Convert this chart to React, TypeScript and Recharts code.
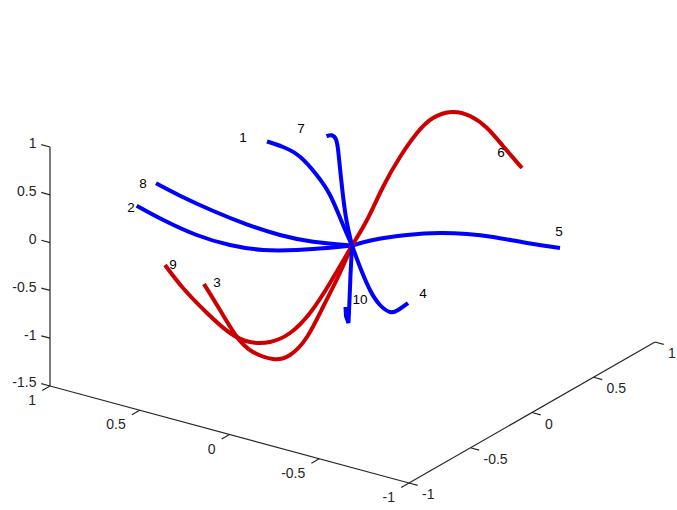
import React from 'react';
import {
  ComposedChart,
  Line,
  XAxis,
  YAxis,
  ReferenceLine,
  Scatter,
} from 'recharts';

// Projected (screen-plane) points of the ten curves
const curve1 = [
  { px: 267, py: 141.5 }, { px: 283, py: 147 }, { px: 300, py: 156.7 }, { px: 316.7, py: 175 },
  { px: 330, py: 195 }, { px: 341.7, py: 221.7 }, { px: 352, py: 245.5 },
];
const curve2 = [
  { px: 136.7, py: 205.7 }, { px: 163.3, py: 220 }, { px: 196.7, py: 235 }, { px: 230, py: 245 },
  { px: 263.3, py: 250 }, { px: 296.7, py: 250 }, { px: 330, py: 247.7 }, { px: 352, py: 245.5 },
];
const curve3 = [
  { px: 352, py: 245.5 }, { px: 338, py: 277 }, { px: 323, py: 307 }, { px: 307, py: 337 },
  { px: 290, py: 355 }, { px: 273, py: 359 }, { px: 253, py: 352 }, { px: 237, py: 337 },
  { px: 220, py: 310 }, { px: 204, py: 284 },
];
const curve4 = [
  { px: 352, py: 245.5 }, { px: 360, py: 267 }, { px: 370, py: 290 }, { px: 380, py: 305 },
  { px: 390, py: 312 }, { px: 398, py: 310 }, { px: 408, py: 303 },
];
const curve5 = [
  { px: 352, py: 245.5 }, { px: 373, py: 240 }, { px: 407, py: 235 }, { px: 440, py: 233 },
  { px: 467, py: 234 }, { px: 493, py: 237 }, { px: 527, py: 243 }, { px: 560, py: 248 },
];
const curve6 = [
  { px: 352, py: 245.5 }, { px: 367, py: 220 }, { px: 383, py: 187 }, { px: 400, py: 157 },
  { px: 417, py: 133 }, { px: 433, py: 118 }, { px: 452, py: 112 }, { px: 470, py: 116 },
  { px: 487, py: 128 }, { px: 503, py: 146 }, { px: 522, py: 168 },
];
const curve7 = [
  { px: 352, py: 245.5 }, { px: 346.7, py: 221.7 }, { px: 343.3, py: 198.3 }, { px: 340.7, py: 175 },
  { px: 338.3, py: 151.7 }, { px: 336, py: 139.5 }, { px: 331.7, py: 135.3 }, { px: 326.5, py: 136.2 },
];
const curve8 = [
  { px: 352, py: 245.5 }, { px: 313.3, py: 241.7 }, { px: 280, py: 235 }, { px: 246.7, py: 224.3 },
  { px: 213.3, py: 211 }, { px: 180, py: 195.7 }, { px: 156, py: 183.3 },
];
const curve9 = [
  { px: 352, py: 245.5 }, { px: 330, py: 283 }, { px: 310, py: 313 }, { px: 290, py: 333 },
  { px: 270, py: 342 }, { px: 250, py: 342 }, { px: 230, py: 333 }, { px: 207, py: 313 },
  { px: 183, py: 288 }, { px: 165, py: 265 },
];
const curve10 = [
  { px: 352, py: 245.5 }, { px: 350.5, py: 275 }, { px: 349.5, py: 300 }, { px: 348.5, py: 323 },
  { px: 346, py: 316 }, { px: 345.5, py: 307 },
];

const curveLabels = [
  { text: '1', px: 243, py: 137 },
  { text: '2', px: 131, py: 207 },
  { text: '3', px: 217, py: 282 },
  { text: '4', px: 423, py: 293 },
  { text: '5', px: 559, py: 231 },
  { text: '6', px: 501, py: 152 },
  { text: '7', px: 301, py: 128 },
  { text: '8', px: 143, py: 183 },
  { text: '9', px: 173, py: 264 },
  { text: '10', px: 360, py: 299 },
];

const xTicks = [1, 0.5, 0, -0.5, -1];
const yTicks = [-1, -0.5, 0, 0.5, 1];
const zTicks = [1, 0.5, 0, -0.5, -1, -1.5];

const BLUE = '#0000ff';
const RED = '#cc0000';
const AXIS = '#262626';

// camera: screen offset per unit of x, y, z and where (0,0,0) lands
const ex = { px: -179.5, py: -48.5 };
const ey = { px: 123, py: -70.5 };
const ez = { px: 0, py: -95.6 };
const origin = { px: 352.5, py: 220.6 };

const project = (x: number, y: number, z: number) => ({
  px: origin.px + x * ex.px + y * ey.px + z * ez.px,
  py: origin.py + x * ex.py + y * ey.py + z * ez.py,
});

const unit = (v: { px: number; py: number }) => {
  const l = Math.hypot(v.px, v.py);
  return { px: v.px / l, py: v.py / l };
};

const TICK_LEN = 9;
const exU = unit(ex);
const eyU = unit(ey);

const xTickSegs = xTicks.map((v) => {
  const p = project(v, -1, -1.5);
  return [p, { px: p.px - eyU.px * TICK_LEN, py: p.py - eyU.py * TICK_LEN }];
});
const yTickSegs = yTicks.map((v) => {
  const p = project(-1, v, -1.5);
  return [p, { px: p.px - exU.px * TICK_LEN, py: p.py - exU.py * TICK_LEN }];
});
const zTickSegs = zTicks.map((v) => {
  const p = project(1, -1, v);
  return [p, { px: p.px + exU.px * TICK_LEN, py: p.py + exU.py * TICK_LEN }];
});

const xLabelData = xTicks.map((v) => {
  const p = project(v, -1, -1.5);
  return { text: String(v), px: p.px - 14, py: p.py + 14 };
});
const yLabelData = yTicks.map((v) => {
  const p = project(-1, v, -1.5);
  return { text: String(v), px: p.px + 13, py: p.py + 11 };
});
const zLabelData = zTicks.map((v) => {
  const p = project(1, -1, v);
  return { text: String(v), px: p.px + exU.px * 14, py: p.py + exU.py * 14 };
});

const axisSegs = [
  [project(1, -1, -1.5), project(-1, -1, -1.5)],
  [project(-1, -1, -1.5), project(-1, 1, -1.5)],
  [project(1, -1, -1.5), project(1, -1, 1)],
];

const makeText = (anchor: 'start' | 'middle' | 'end', size: number, color: string) =>
  (props: any) => (
    <text
      x={props.cx}
      y={props.cy}
      textAnchor={anchor}
      dominantBaseline="central"
      fontSize={size}
      fill={color}
    >
      {props.payload.text}
    </text>
  );

const curves = [
  { data: curve1, color: BLUE },
  { data: curve2, color: BLUE },
  { data: curve3, color: RED },
  { data: curve4, color: BLUE },
  { data: curve5, color: BLUE },
  { data: curve6, color: RED },
  { data: curve7, color: BLUE },
  { data: curve8, color: BLUE },
  { data: curve9, color: RED },
  { data: curve10, color: BLUE, linear: true },
];

const App: React.FC = () => {
  return (
    <div
      style={{
        position: 'absolute',
        left: 0,
        top: 0,
        width: 677,
        height: 510,
        background: '#fff',
        fontFamily: '"Liberation Sans", Arial, sans-serif',
      }}
    >
      <ComposedChart width={677} height={510} margin={{ top: 0, right: 0, bottom: 0, left: 0 }}>
        <XAxis type="number" dataKey="px" domain={[0, 677]} hide allowDataOverflow />
        <YAxis type="number" dataKey="py" domain={[0, 510]} reversed hide allowDataOverflow />

        {axisSegs.map(([a, b], i) => (
          <ReferenceLine
            key={`axis-${i}`}
            segment={[{ x: a.px, y: a.py }, { x: b.px, y: b.py }]}
            stroke={AXIS}
            strokeWidth={1.2}
            ifOverflow="visible"
          />
        ))}
        {[...xTickSegs, ...yTickSegs, ...zTickSegs].map(([a, b], i) => (
          <ReferenceLine
            key={`tick-${i}`}
            segment={[{ x: a.px, y: a.py }, { x: b.px, y: b.py }]}
            stroke={AXIS}
            strokeWidth={1.2}
            ifOverflow="visible"
          />
        ))}

        {curves.map((c, i) => (
          <Line
            key={`curve-${i}`}
            data={c.data}
            dataKey="py"
            type={c.linear ? 'linear' : 'natural'}
            stroke={c.color}
            strokeWidth={4}
            dot={false}
            activeDot={false}
            isAnimationActive={false}
          />
        ))}

        <Scatter data={xLabelData} shape={makeText('end', 14, AXIS)} isAnimationActive={false} />
        <Scatter data={yLabelData} shape={makeText('start', 14, AXIS)} isAnimationActive={false} />
        <Scatter data={zLabelData} shape={makeText('end', 14, AXIS)} isAnimationActive={false} />
        <Scatter data={curveLabels} shape={makeText('middle', 13.5, '#000')} isAnimationActive={false} />
      </ComposedChart>
    </div>
  );
};

export default App;
